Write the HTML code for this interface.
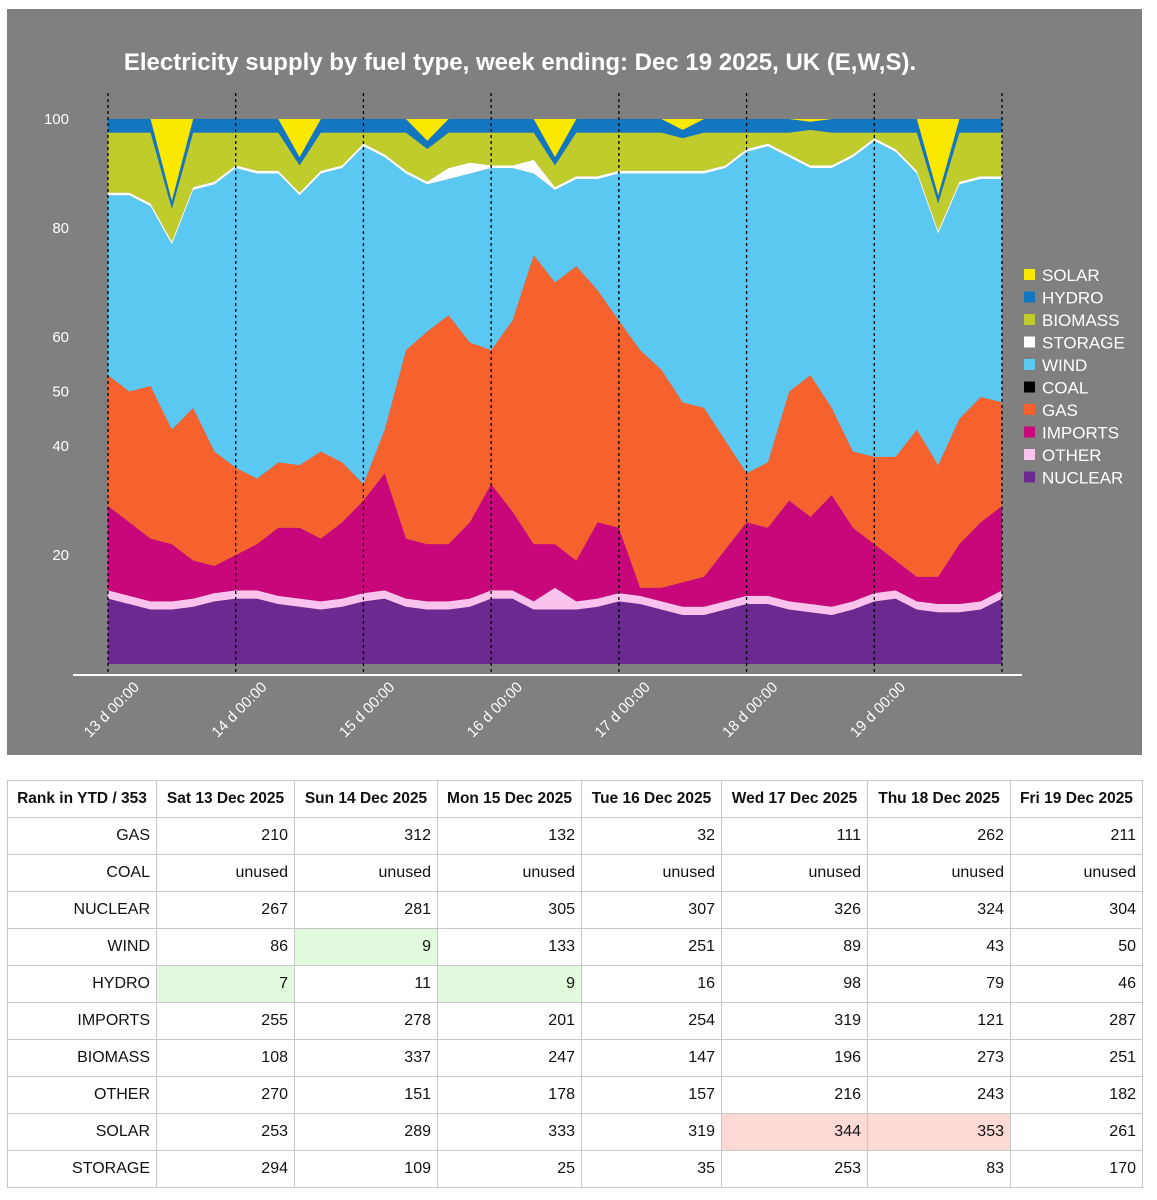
<!DOCTYPE html>
<html><head><meta charset="utf-8"><style>
body{margin:0;background:#fff;width:1157px;height:1200px;overflow:hidden;font-family:"Liberation Sans",sans-serif}
#panel{position:absolute;left:7px;top:9px;width:1135px;height:746px;background:#808080}
table{position:absolute;left:7px;top:780px;border-collapse:collapse;font-size:16px;color:#111;table-layout:fixed;width:1135px}
td,th{border:1px solid #c8c8c8;height:37px;padding:0 6px;text-align:right;box-sizing:border-box;white-space:nowrap;overflow:hidden}
th{font-weight:bold;text-align:center;font-size:15.5px;padding:0 2px}
.g{background:#e1f9dd}.r{background:#fdd9d6}
</style></head><body>
<div id="panel"></div>
<svg id="chart" width="1157" height="760" style="position:absolute;left:0;top:0"></svg>
<table>
<colgroup><col style="width:149px"><col style="width:138px"><col style="width:143px"><col style="width:144px"><col style="width:140px"><col style="width:146px"><col style="width:143px"><col style="width:132px"></colgroup>
<tr><th>Rank in YTD / 353</th><th>Sat 13 Dec 2025</th><th>Sun 14 Dec 2025</th><th>Mon 15 Dec 2025</th><th>Tue 16 Dec 2025</th><th>Wed 17 Dec 2025</th><th>Thu 18 Dec 2025</th><th>Fri 19 Dec 2025</th></tr>
<tr><td>GAS</td><td>210</td><td>312</td><td>132</td><td>32</td><td>111</td><td>262</td><td>211</td></tr>
<tr><td>COAL</td><td>unused</td><td>unused</td><td>unused</td><td>unused</td><td>unused</td><td>unused</td><td>unused</td></tr>
<tr><td>NUCLEAR</td><td>267</td><td>281</td><td>305</td><td>307</td><td>326</td><td>324</td><td>304</td></tr>
<tr><td>WIND</td><td>86</td><td class="g">9</td><td>133</td><td>251</td><td>89</td><td>43</td><td>50</td></tr>
<tr><td>HYDRO</td><td class="g">7</td><td>11</td><td class="g">9</td><td>16</td><td>98</td><td>79</td><td>46</td></tr>
<tr><td>IMPORTS</td><td>255</td><td>278</td><td>201</td><td>254</td><td>319</td><td>121</td><td>287</td></tr>
<tr><td>BIOMASS</td><td>108</td><td>337</td><td>247</td><td>147</td><td>196</td><td>273</td><td>251</td></tr>
<tr><td>OTHER</td><td>270</td><td>151</td><td>178</td><td>157</td><td>216</td><td>243</td><td>182</td></tr>
<tr><td>SOLAR</td><td>253</td><td>289</td><td>333</td><td>319</td><td class="r">344</td><td class="r">353</td><td>261</td></tr>
<tr><td>STORAGE</td><td>294</td><td>109</td><td>25</td><td>35</td><td>253</td><td>83</td><td>170</td></tr>
</table>
<script>
const dayLabels=["13 d 00:00","14 d 00:00","15 d 00:00","16 d 00:00","17 d 00:00","18 d 00:00","19 d 00:00"];
const yTicks=[20,40,50,60,80,100];
const nuclear=[12,11,10,10,10.5,11.5,12,12,11,10.5,10,10.5,11.5,12,10.5,10,10,10.5,12,12,10,10,10,10.5,11.5,11,10,9,9,10,11,11,10,9.5,9,10,11.5,12,10,9.5,9.5,10,12];
const other=[1.5,1.5,1.5,1.5,1.5,1.5,1.5,1.5,1.5,1.5,1.5,1.5,1.5,1.5,1.5,1.5,1.5,1.5,1.5,1.5,1.5,4,1.5,1.5,1.5,1.5,1.5,1.5,1.5,1.5,1.5,1.5,1.5,1.5,1.5,1.5,1.5,1.5,1.5,1.5,1.5,1.5,1.5];
const imports=[15.5,13.5,11.5,10.5,7,5,6.5,8.5,12.5,13,11.5,14,17,21.5,11,10.5,10.5,14,19.5,14.5,10.5,8,7.5,14,12,1.5,2.5,4.5,5.5,9.5,13.5,12.5,18.5,16,20.5,13.5,9,5.5,4.5,5,11,14.5,15.5];
const gas=[24,24,28,21,28,21,16,12,12,11.5,16,11,3,8,34.6,39,42,33,24.6,35,53,48,54,42.6,38,43.6,40,33,31,20,9,12,20,26,16,14,16,19,27,20.5,23,23,19];
const coal=new Array(43).fill(0);
const wind=[33,36,33,34,40,49,55,56,53,49.5,51,54,62,50,32.4,27,25,31,33.4,28,15,17,16,20.4,27,32.4,36,42,43,50,59,58,43,38,44,54,58,56,47,42.5,43,40,41];
const storage=[.5,.5,.5,.5,.5,.5,.5,.5,.5,.5,.5,.5,.5,.5,.5,.5,2,2,.5,.5,2.5,.5,.5,.5,.5,.5,.5,.5,.5,.5,.5,.5,.5,.5,.5,.5,.5,.5,.5,.5,.5,.5,.5];
const biomass=[11,11,13,6,10,9,6,7,7,5,7,6,2,4,7,6,6.5,5.5,6,6,5,4,8,8,7,7,7,6,7,6,3,2,4,6.5,6,4,1,3,7,5,9,8,8];
const hydro=[2.5,2.5,2.5,1.5,2.5,2.5,2.5,2.5,2.5,1.5,2.5,2.5,2.5,2.5,2.5,1.5,2.5,2.5,2.5,2.5,2.5,1.5,2.5,2.5,2.5,2.5,2.5,1.5,2.5,2.5,2.5,2.5,2.5,1.5,2.5,2.5,2.5,2.5,2.5,1.5,2.5,2.5,2.5];
const solar=[0,0,0,15,0,0,0,0,0,7,0,0,0,0,0,4,0,0,0,0,0,7,0,0,0,0,0,2,0,0,0,0,0,.5,0,0,0,0,0,14,0,0,0];
const seriesNames=["NUCLEAR","OTHER","IMPORTS","GAS","COAL","WIND","STORAGE","BIOMASS","HYDRO","SOLAR"];
const seriesData=[nuclear,other,imports,gas,coal,wind,storage,biomass,hydro,solar];
const colors=["#6b2a90","#f9c3ee","#c8077a","#f5622d","#000000","#5bc8f2","#ffffff","#c0cc2c","#1276c0","#fae800"];
const NS="http://www.w3.org/2000/svg";
const svg=document.getElementById('chart');
const X0=108,X1=1002,Y0=664,YS=5.45;
const n=nuclear.length;
const xs=i=>X0+i*(X1-X0)/(n-1);
const ys=v=>Y0-v*YS;
function mk(t,a){const e=document.createElementNS(NS,t);for(const k in a)e.setAttribute(k,a[k]);svg.appendChild(e);return e;}
const totals=[];for(let i=0;i<n;i++){let s=0;seriesData.forEach(d=>s+=d[i]);totals.push(s);}
let base=new Array(n).fill(0);
seriesData.forEach((d,si)=>{
  const top=base.map((b,i)=>b+d[i]*100/totals[i]);
  let pts=[];for(let i=0;i<n;i++)pts.push(xs(i)+','+ys(top[i]));
  for(let i=n-1;i>=0;i--)pts.push(xs(i)+','+ys(base[i]));
  const p=mk('polygon',{points:pts.join(' '),fill:colors[si]});
  
  
  base=top;
});
for(let k=0;k<=7;k++){
  const x=X0+k*(X1-X0)/7;
  const l=mk('line',{x1:x,x2:x,y1:93,y2:672,stroke:'#000','stroke-width':1.3,'stroke-dasharray':'3,3'});
  
  
  if(k<7){
    const tx=x+32,ty=688;
    const t=mk('text',{x:tx,y:ty,fill:'#fff','font-size':15,'text-anchor':'end',transform:`rotate(-45 ${tx} ${ty})`});
    t.textContent=dayLabels[k];
    
    
  }
}
const ax=mk('line',{x1:73,x2:1022,y1:675,y2:675,stroke:'#fff','stroke-width':2});


yTicks.forEach(v=>{
  const t=mk('text',{x:69,y:ys(v)+5,fill:'#fff','font-size':15,'text-anchor':'end'});
  t.textContent=v;
  
  
});
const title=mk('text',{x:520,y:70,fill:'#fff','font-size':24,'font-weight':'bold','text-anchor':'middle'});
title.textContent='Electricity supply by fuel type, week ending:  Dec 19 2025, UK (E,W,S).';


for(let k=0;k<10;k++){
  const si=9-k;const y=275+k*22.5;
  const r=mk('rect',{x:1024,y:y-6,width:11,height:11,fill:colors[si]});
  
  
  const t=mk('text',{x:1042,y:y+6,fill:'#fff','font-size':17});
  t.textContent=seriesNames[si];
  
  
}
</script>
</body></html>
